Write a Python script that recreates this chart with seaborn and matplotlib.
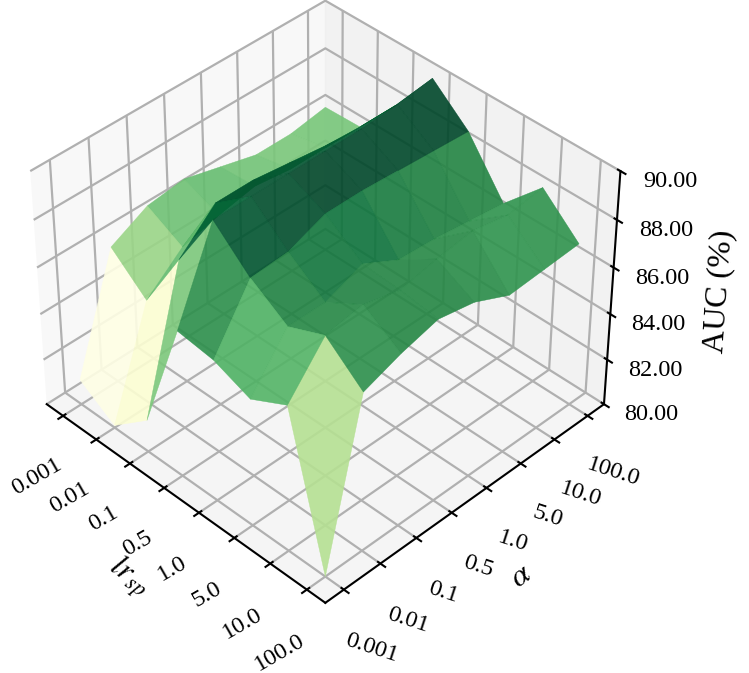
import numpy as np
import matplotlib
matplotlib.use('Agg')
import matplotlib.pyplot as plt
import seaborn as sns

plt.rcParams['font.family'] = ['Liberation Serif', 'DejaVu Serif']
plt.rcParams['mathtext.fontset'] = 'stix'
plt.rcParams['grid.linewidth'] = 1.6
plt.rcParams['axes.linewidth'] = 1.5
plt.rcParams['xtick.major.width'] = 1.5
plt.rcParams['ytick.major.width'] = 1.5

lr_labels = ['0.001', '0.01', '0.1', '0.5', '1.0', '5.0', '10.0', '100.0']
alpha_labels = ['0.001', '0.01', '0.1', '0.5', '1.0', '5.0', '10.0', '100.0']

# one row per lr value, one column per alpha value
auc_lr_0001 = [81.1, 85.9, 86.7, 86.9, 86.5, 86.1, 86.1, 86.35]
auc_lr_001 = [80.1, 84.6, 85.9, 86.3, 86.6, 86.4, 86.4, 86.4]
auc_lr_01 = [81.4, 87.3, 88.7, 88.7, 88.5, 88.3, 88.2, 88.2]
auc_lr_05 = [86.3, 89.9, 89.9, 89.9, 89.9, 89.9, 90.0, 90.2]
auc_lr_1 = [86.1, 88.5, 88.6, 89.2, 89.2, 89.1, 89.0, 88.9]
auc_lr_5 = [85.5, 87.5, 87.5, 88.1, 87.3, 87.2, 87.0, 86.8]
auc_lr_10 = [86.3, 88.15, 88.4, 88.0, 88.3, 88.5, 88.2, 88.4]
auc_lr_100 = [80.0, 86.85, 87.4, 87.8, 87.5, 86.8, 86.9, 87.0]

auc = np.array([auc_lr_0001, auc_lr_001, auc_lr_01, auc_lr_05,
                auc_lr_1, auc_lr_5, auc_lr_10, auc_lr_100])

x_pos = np.arange(len(lr_labels))
y_pos = np.arange(len(alpha_labels))
X, Y = np.meshgrid(x_pos, y_pos, indexing='ij')

fig = plt.figure(figsize=(7.49, 6.73), dpi=100)
ax = fig.add_axes([-0.045, 0.087, 0.936, 0.936], projection='3d')
surf = ax.plot_surface(X, Y, auc, cmap=sns.color_palette('YlGn', as_cmap=True),
                       vmin=83.0, vmax=89.6, alpha=0.9, rstride=1, cstride=1,
                       linewidth=0, antialiased=True)
# hide the white seams between the faces
surf.set_edgecolor('face')
surf.set_linewidth(0.3)
ax.view_init(elev=40, azim=-45)
ax.set_xlim(-0.5, 7.5)
ax.set_ylim(-0.5, 7.5)
ax.set_zlim(80, 90)
ax.set_xticks(x_pos)
ax.set_xticklabels(lr_labels, fontsize=17.5, rotation=30, ha='center', va='top')
ax.set_yticks(y_pos)
ax.set_yticklabels(alpha_labels, fontsize=17.5, rotation=-18, ha='center', va='top')
ax.set_zticks(np.arange(80, 91, 2))
ax.set_zticklabels(['%.2f' % v for v in np.arange(80, 91, 2)], fontsize=17.5)
ax.tick_params(axis='x', pad=14)
ax.tick_params(axis='y', pad=14)
ax.tick_params(axis='z', pad=12)
ax.set_xlabel(r'$lr_{sp}$', fontsize=23, labelpad=22, rotation=-50)
ax.set_ylabel(r'$\alpha$', fontsize=23, labelpad=22, rotation=0)
ax.set_zlabel('AUC (%)', fontsize=23, labelpad=23)

fig.savefig('out.png', dpi=100)
